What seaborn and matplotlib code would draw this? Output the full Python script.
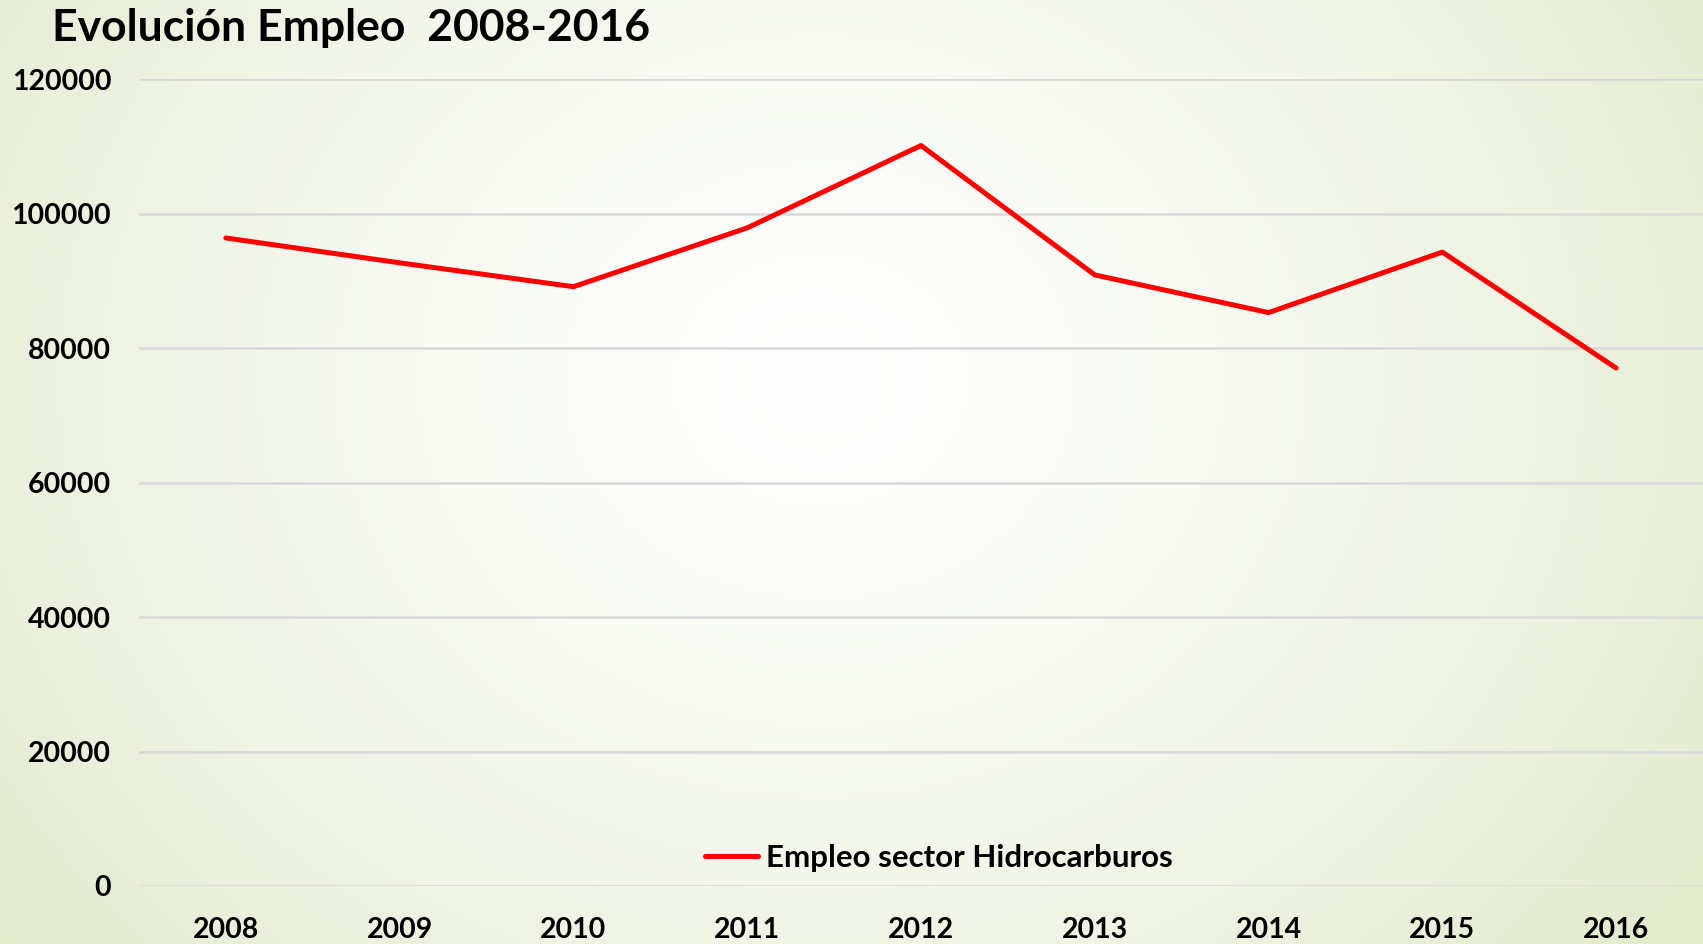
import numpy as np
import pandas as pd
import matplotlib
matplotlib.use("Agg")
import matplotlib.pyplot as plt
import seaborn as sns

years = ["2008", "2009", "2010", "2011", "2012", "2013", "2014", "2015", "2016"]
empleo = [96400, 92700, 89150, 97900, 110150, 90900, 85300, 94300, 77050]
series_name = "Empleo sector Hidrocarburos"
title = "Evolución Empleo  2008-2016"
yticks = [0, 20000, 40000, 60000, 80000, 100000, 120000]

sns.set_theme(style="white")
plt.rcParams['font.family'] = ['Lato', 'DejaVu Sans']
plt.rcParams['font.weight'] = 'bold'

W, H = 1703, 944
fig = plt.figure(figsize=(W / 100, H / 100), dpi=100)

# background radial gradient
bg = fig.add_axes([0, 0, 1, 1], zorder=-10)
yy, xx = np.mgrid[0:H, 0:W]
cx, cy = 820, 380
d = np.sqrt(((xx - cx) / 1.05) ** 2 + ((yy - cy) / 0.9) ** 2)
t = np.clip(d / 1000.0, 0, 1) ** 1.35
c0 = np.array([255, 255, 255]) / 255
c1 = np.array([227, 235, 207]) / 255
img = c0[None, None, :] * (1 - t[..., None]) + c1[None, None, :] * t[..., None]
bg.imshow(img, aspect="auto", extent=[0, 1, 0, 1])
bg.axis("off")

ax = fig.add_axes([139 / W, 1 - 886 / H, (W - 139) / W, (886 - 79.3) / H])
ax.patch.set_alpha(0)

df = pd.DataFrame({"Año": years, series_name: empleo})
sns.lineplot(data=df, x="Año", y=series_name, ax=ax, color="#ff0000",
             linewidth=3.6, label=series_name, sort=False)

ax.set_xlim(-0.5, len(years) - 0.5)
ax.set_ylim(0, 120000)
ax.set_yticks(yticks)
ax.set_yticklabels([str(v) for v in yticks], fontsize=20.5, fontweight="bold", color="black")
ax.set_xticks(range(len(years)))
ax.set_xticklabels(years, fontsize=20.5, fontweight="bold", color="black")
ax.tick_params(axis="y", pad=20, length=0)
ax.tick_params(axis="x", pad=22, length=0)
ax.grid(axis="y", color="#d9d9d9", linewidth=1.8)
ax.grid(axis="x", visible=False)
for s in ax.spines.values():
    s.set_visible(False)
ax.set_xlabel("")
ax.set_ylabel("")

leg = ax.legend(loc="center", bbox_to_anchor=(939 / W, 1 - 858 / H),
                bbox_transform=fig.transFigure, frameon=False,
                prop={"size": 22.5, "weight": "bold"}, handlelength=1.7,
                handletextpad=0.25)
for txt in leg.get_texts():
    txt.set_color("black")

fig.text(52 / W, 1 - 28 / H, title, fontsize=32, fontweight="bold",
         ha="left", va="center", color="black")

fig.savefig("out.png", dpi=100)
